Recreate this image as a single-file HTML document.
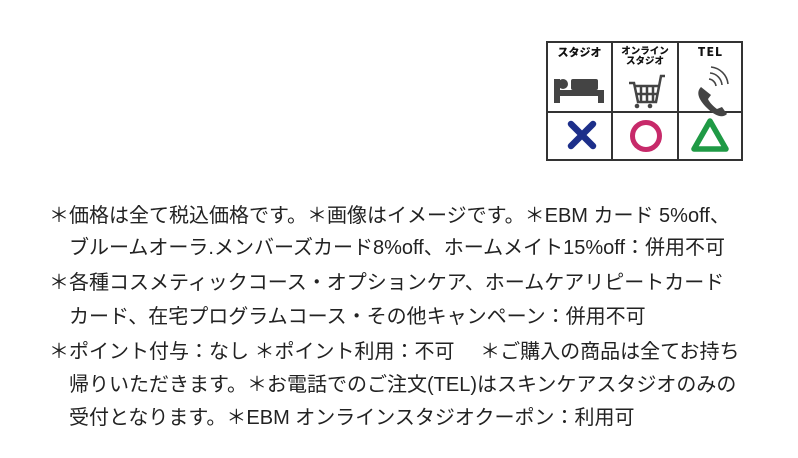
<!DOCTYPE html>
<html><head><meta charset="utf-8"><style>
body{margin:0;width:798px;height:458px;background:#fff;position:relative;overflow:hidden;font-family:"Liberation Sans","Noto Sans CJK JP",sans-serif;color:#222}
.l{position:absolute;font-size:20px;letter-spacing:0px;line-height:24px;white-space:nowrap}
.hd{position:absolute;font-weight:900;text-align:center;color:#111;font-family:"Noto Sans CJK JP","Liberation Sans",sans-serif}
</style></head><body>
<svg style="position:absolute;left:0;top:0" width="798" height="458">
<rect x="547" y="42" width="195" height="118" fill="none" stroke="#333" stroke-width="2"/>
<path d="M612 42v118M678 42v118M547 112h195" stroke="#333" stroke-width="2"/>
<circle cx="563" cy="84" r="5" fill="#444"/>
<rect x="571" y="79" width="27" height="11" rx="2" fill="#444"/>
<rect x="554" y="90" width="50" height="6" fill="#444"/>
<rect x="554" y="79" width="6" height="24" fill="#444"/>
<rect x="598" y="90" width="6" height="13" fill="#444"/>
<g stroke="#444" stroke-width="2.5" fill="none"><path d="M629 83h5l4 19h18l5-26h4M634 86h26M641 86v16M647 86v16M653 86v16M636 94h22"/></g>
<circle cx="637" cy="106" r="2.3" fill="#444"/><circle cx="650" cy="106" r="2.3" fill="#444"/>
<path d="M701 87c-5 5-3 12 6 21s16 10 20 6l-5-7-5 2c-3-2-8-7-9-10l3-4z" fill="#444"/>
<g stroke="#444" stroke-width="1.6" fill="none"><path d="M709 79a8 8 0 0 1 7 7M710 73a13 13 0 0 1 12 12M711 67a19 19 0 0 1 17 17"/></g>
<path d="M571 124l22 22M593 124l-22 22" stroke="#1d2f8a" stroke-width="6.5" stroke-linecap="round"/>
<circle cx="646" cy="136" r="13.5" stroke="#c72a6a" stroke-width="5" fill="none"/>
<path d="M710 121l-16 28h32z" stroke="#1f9a45" stroke-width="5.5" fill="none" stroke-linejoin="round"/>
</svg>
<div class="hd" style="left:548px;top:46px;width:63px;font-size:11px;line-height:13px">スタジオ</div>
<div class="hd" style="left:613px;top:45px;width:64px;font-size:9.5px;line-height:10px">オンライン<br>スタジオ</div>
<div class="hd" style="left:679px;top:45px;width:63px;font-size:12px;line-height:14px;letter-spacing:1px">TEL</div>
<div class="l" style="left:49px;top:204px">＊価格は全て税込価格です。＊画像はイメージです。＊EBM カード 5%off、</div>
<div class="l" style="left:69px;top:236px">ブルームオーラ.メンバーズカード8%off、ホームメイト15%off：併用不可</div>
<div class="l" style="left:49px;top:271px">＊各種コスメティックコース・オプションケア、ホームケアリピートカード</div>
<div class="l" style="left:69px;top:305px">カード、在宅プログラムコース・その他キャンペーン：併用不可</div>
<div class="l" style="left:49px;top:340px">＊ポイント付与：なし  ＊ポイント利用：不可　 ＊ご購入の商品は全てお持ち</div>
<div class="l" style="left:69px;top:373px">帰りいただきます。＊お電話でのご注文(TEL)はスキンケアスタジオのみの</div>
<div class="l" style="left:69px;top:406px">受付となります。＊EBM オンラインスタジオクーポン：利用可</div>
</body></html>
